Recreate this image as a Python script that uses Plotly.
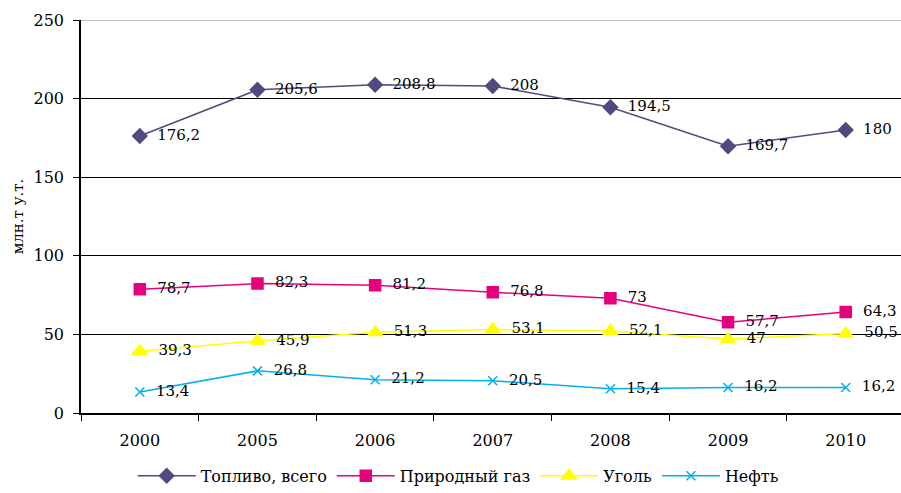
import plotly.graph_objects as go

years = ["2000", "2005", "2006", "2007", "2008", "2009", "2010"]
fuel_total = [176.2, 205.6, 208.8, 208, 194.5, 169.7, 180]
natural_gas = [78.7, 82.3, 81.2, 76.8, 73, 57.7, 64.3]
coal = [39.3, 45.9, 51.3, 53.1, 52.1, 47, 50.5]
oil = [13.4, 26.8, 21.2, 20.5, 15.4, 16.2, 16.2]

series_names = ["Топливо, всего", "Природный газ", "Уголь", "Нефть"]
series_vals = [fuel_total, natural_gas, coal, oil]
colors = ["#4f4a80", "#e6007e", "#ffff00", "#00b0f0"]
symbols = ["diamond", "square", "triangle-up", "x-thin"]
msizes = [11, 11, 13, 9]

FONT = "DejaVu Serif"

def fmt(v):
    s = ("%g" % v).replace(".", ",")
    return "  " + s

fig = go.Figure()
for name, vals, c, sym, ms in zip(series_names, series_vals, colors, symbols, msizes):
    fig.add_trace(go.Scatter(
        x=years, y=vals, name=name, mode="lines+markers+text",
        line=dict(color=c, width=1.5),
        marker=dict(symbol=sym, size=ms, color=c, line=dict(color=c, width=1.5)),
        text=[fmt(v) for v in vals], textposition="middle right",
        textfont=dict(family=FONT, size=15, color="black"),
        cliponaxis=False,
    ))

fig.update_layout(
    width=901, height=493,
    margin=dict(l=81, r=0, t=20, b=74),
    plot_bgcolor="white", paper_bgcolor="white",
    font=dict(family=FONT, size=15, color="black"),
    showlegend=True,
    legend=dict(orientation="h", x=0.46, xanchor="center", y=-0.16, yanchor="middle",
                font=dict(family=FONT, size=16), itemwidth=58, tracegroupgap=0),
    xaxis=dict(type="category", range=[-0.5, 6.47], showgrid=False,
               showline=True, linecolor="black", linewidth=1.5,
               ticks="outside", tickson="boundaries", ticklen=6, tickcolor="black",
               ticklabelstandoff=12, tickfont=dict(size=16)),
    yaxis=dict(range=[0, 250], dtick=50, showgrid=True, gridcolor="black", gridwidth=1.2,
               showline=True, linecolor="black", linewidth=1.5,
               ticks="outside", ticklen=6, tickcolor="black", ticklabelstandoff=6,
               zeroline=False, tickfont=dict(size=16),
               title=dict(text="млн.т у.т.", font=dict(size=15), standoff=6)),
)
fig.add_shape(type="line", xref="paper", yref="y", x0=0, x1=1, y0=250, y1=250,
              line=dict(color="#b0aaa8", width=1.5))

fig.write_html("out.html")
